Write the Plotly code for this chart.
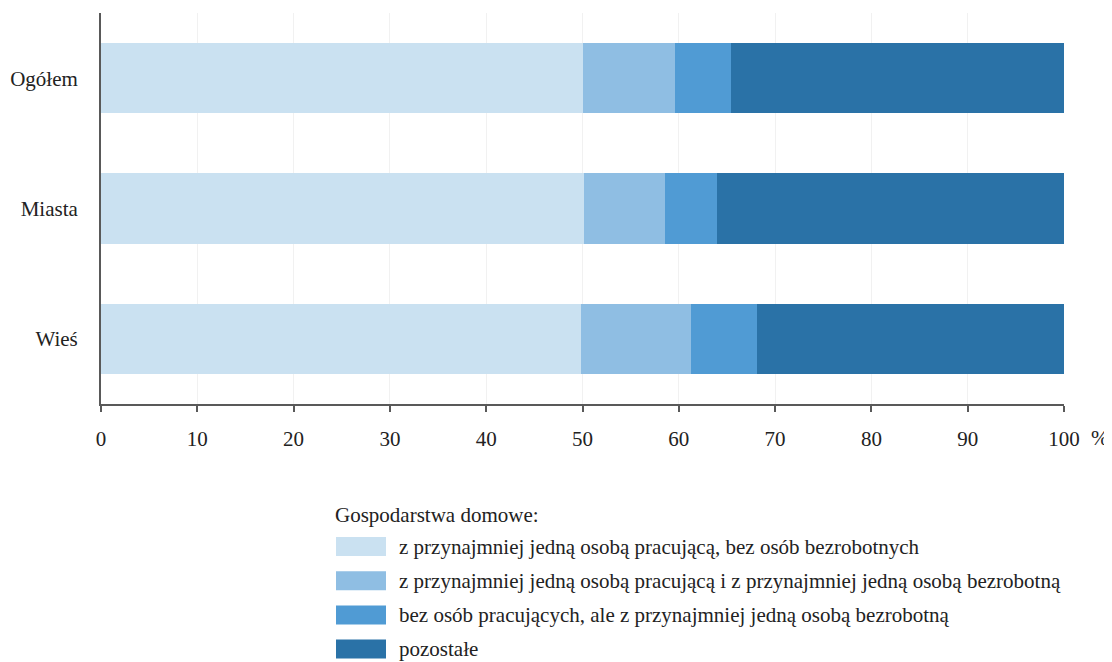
import plotly.graph_objects as go

categories = ["Ogółem", "Miasta", "Wieś"]
series_names = [
    "z przynajmniej jedną osobą pracującą, bez osób bezrobotnych",
    "z przynajmniej jedną osobą pracującą i z przynajmniej jedną osobą bezrobotną",
    "bez osób pracujących, ale z przynajmniej jedną osobą bezrobotną",
    "pozostałe",
]
s1 = [50.1, 50.2, 49.8]
s2 = [9.5, 8.4, 11.5]
s3 = [5.8, 5.4, 6.8]
s4 = [34.6, 36.0, 31.9]
series_values = [s1, s2, s3, s4]
colors = ["#cae1f1", "#8fbee3", "#509bd4", "#2a72a7"]
x_ticks = [0, 10, 20, 30, 40, 50, 60, 70, 80, 90, 100]
legend_title = "Gospodarstwa domowe:"

FONT = "'Liberation Serif', 'Times New Roman', serif"
FS = 21

# page has an 8px body margin; figure is sized so the plot lands where intended
W, H = 1104, 654
PX0, PX1 = 101, 1064   # plot area, screen px
PY0, PY1 = 13, 404


def px(xs):
    return (xs - PX0) / (PX1 - PX0)


def py(ys):
    return (PY1 - ys) / (PY1 - PY0)


fig = go.Figure()
for name, vals, col in zip(series_names, series_values, colors):
    fig.add_trace(go.Bar(
        y=categories, x=vals, name=name, orientation="h",
        marker=dict(color=col, line=dict(width=0)),
        width=0.54, showlegend=False, hoverinfo="x+name",
    ))

# custom legend (swatches + labels)
lx0, lx1 = 336, 386
ly0 = 546.5
dy = 34.2
fig.add_annotation(x=px(333), y=py(515), xref="paper", yref="paper",
                   text=legend_title, showarrow=False, xanchor="left", yanchor="middle",
                   font=dict(family=FONT, size=FS, color="#222"))
for i, (name, col) in enumerate(zip(series_names, colors)):
    cy = ly0 + i * dy
    fig.add_shape(type="rect", xref="paper", yref="paper",
                  x0=px(lx0), x1=px(lx1), y0=py(cy - 9.5), y1=py(cy + 9.5),
                  fillcolor=col, line=dict(width=0), layer="above")
    fig.add_annotation(x=px(397), y=py(cy), xref="paper", yref="paper",
                       text=name, showarrow=False, xanchor="left", yanchor="middle",
                       font=dict(family=FONT, size=FS, color="#222"))

fig.add_annotation(x=px(1089), y=py(438), xref="paper", yref="paper",
                   text="%", showarrow=False, xanchor="left", yanchor="middle",
                   font=dict(family=FONT, size=FS, color="#222"))

fig.update_layout(
    barmode="stack",
    width=W, height=H,
    margin=dict(l=PX0 - 8, r=W - (PX1 - 8), t=PY0 - 8, b=H - (PY1 - 8), autoexpand=False),
    paper_bgcolor="white", plot_bgcolor="white",
    font=dict(family=FONT, size=FS, color="#222"),
    xaxis=dict(
        range=[0, 100], tickvals=x_ticks, ticktext=[str(v) for v in x_ticks],
        showgrid=True, gridcolor="#f1f1f1", gridwidth=1,
        showline=True, linecolor="#595959", linewidth=2,
        ticks="outside", ticklen=6, tickwidth=1.5, tickcolor="#595959",
        ticklabelstandoff=9, zeroline=False, fixedrange=True,
    ),
    yaxis=dict(
        categoryorder="array", categoryarray=categories,
        autorange=False, range=[2.5, -0.5],
        showgrid=False, showline=True, linecolor="#595959", linewidth=2,
        ticks="", ticklabelstandoff=17, zeroline=False, fixedrange=True,
    ),
)

fig.write_html("out.html")
